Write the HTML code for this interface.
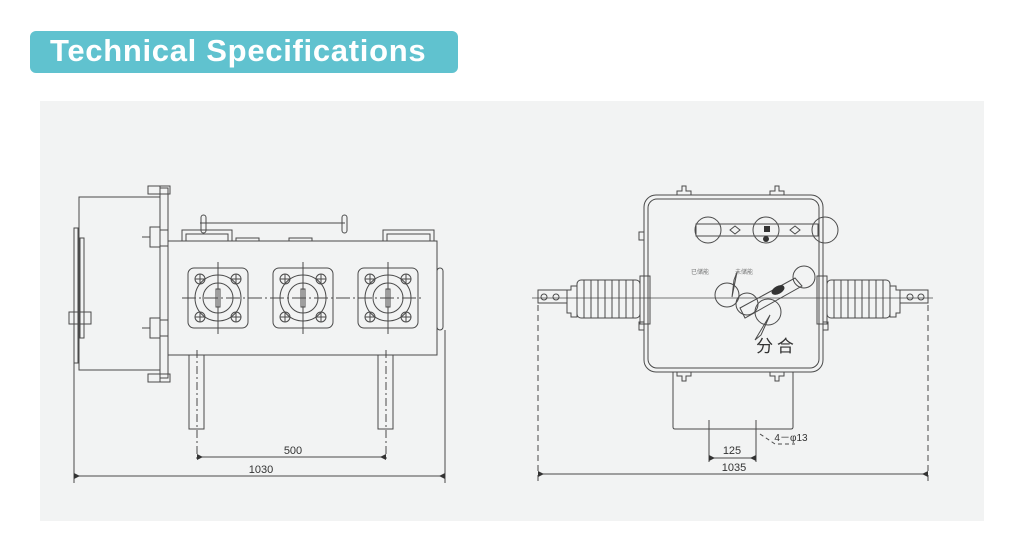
<!DOCTYPE html>
<html><head><meta charset="utf-8"><style>
html,body{margin:0;padding:0;background:#fff;width:1024px;height:552px;overflow:hidden}
.banner{position:absolute;left:30px;top:31px;width:428px;height:42px;background:#60c2cf;border-radius:6px}
.banner span{position:absolute;left:20px;top:2px;font:bold 31px "Liberation Sans",sans-serif;color:#fff;letter-spacing:0.7px}
.panel{position:absolute;left:40px;top:101px;width:944px;height:420px;background:#f2f3f3}
svg{position:absolute;left:0;top:0}
</style></head><body>
<div class="banner"><span>Technical Specifications</span></div>
<div class="panel"></div>
<svg width="1024" height="552" viewBox="0 0 1024 552" font-family="Liberation Sans, sans-serif">
<g fill="none" stroke="#4a4a4a" stroke-width="1">
<!-- LEFT VIEW -->
<rect x="79" y="197" width="81" height="173"/>
<rect x="74" y="228" width="4" height="135"/>
<rect x="80" y="238" width="4" height="100"/>
<rect x="69" y="312" width="22" height="12"/>
<rect x="160" y="188" width="8" height="190"/>
<rect x="148" y="186" width="12" height="8"/><rect x="160" y="186" width="10" height="8"/>
<rect x="148" y="374" width="12" height="8"/><rect x="160" y="374" width="10" height="8"/>
<rect x="150" y="227" width="10" height="20"/><rect x="160" y="230" width="8" height="16"/>
<rect x="150" y="318" width="10" height="20"/><rect x="160" y="320" width="8" height="16"/>
<line x1="142" y1="237" x2="150" y2="237"/><line x1="142" y1="328" x2="150" y2="328"/>
<rect x="168" y="241" width="269" height="114"/>
<rect x="437" y="268" width="6" height="62" rx="3"/>
<path d="M182 241 V230 h50 V241 M186 241 V234 h42 V241"/>
<line x1="200" y1="223" x2="345" y2="223"/>
<rect x="201" y="215" width="5" height="18" rx="2.5"/>
<rect x="342" y="215" width="5" height="18" rx="2.5"/>
<path d="M236 241 v-3 h23 v3 M289 241 v-3 h23 v3"/>
<path d="M383 241 V230 h51 V241 M387 241 V234 h43 V241"/>
<g id="fl">
<rect x="188" y="268" width="60" height="60" rx="6"/>
<circle cx="218" cy="298" r="23"/><circle cx="218" cy="298" r="15"/>
<rect x="216" y="289" width="4" height="18"/>
<circle cx="200" cy="279" r="5"/><circle cx="236" cy="279" r="5"/><circle cx="200" cy="317" r="5"/><circle cx="236" cy="317" r="5"/>
<path d="M195 279h10M200 274v10M231 279h10M236 274v10M195 317h10M200 312v10M231 317h10M236 312v10"/>
<line x1="218" y1="262" x2="218" y2="334"/>
</g>
<use href="#fl" x="85"/><use href="#fl" x="170"/>
<line x1="182" y1="298" x2="424" y2="298" stroke-dasharray="14,3,2,3"/>
<rect x="189" y="355" width="15" height="74"/><rect x="378" y="355" width="15" height="74"/>
<line x1="197" y1="350" x2="197" y2="460" stroke-dasharray="8,3,2,3"/>
<line x1="386" y1="350" x2="386" y2="460" stroke-dasharray="8,3,2,3"/>
<line x1="197" y1="457" x2="386" y2="457"/>
<line x1="74" y1="363" x2="74" y2="483"/><line x1="445" y1="330" x2="445" y2="483"/>
<line x1="74" y1="476" x2="445" y2="476"/>
<!-- RIGHT VIEW -->
<rect x="644" y="195" width="179" height="177" rx="12"/>
<rect x="648" y="199" width="171" height="169" rx="9"/>
<path d="M677 195v-4h5v-5h4v5h5v4 M770 195v-4h5v-5h4v5h5v4 M677 372v4h5v5h4v-5h5v-4 M770 372v4h5v5h4v-5h5v-4"/>
<path d="M644 232h-5v8h5 M644 322h-5v8h5 M823 322h5v8h-5"/>
<path d="M673 372 V427 q0 2 2 2 H791 q2 0 2-2 V372"/>
<rect x="696" y="224" width="122" height="12"/>
<circle cx="708" cy="230" r="13"/><circle cx="825" cy="230" r="13"/>
<circle cx="766" cy="230" r="13"/>
<path d="M730 230l5-4 5 4-5 4z M790 230l5-4 5 4-5 4z"/>
<rect x="640" y="276" width="10" height="48"/><rect x="817" y="276" width="10" height="48"/>
<path d="M567 290 h4 v-4 h6 V317 h-6 v-4 h-4z"/>
<rect x="577" y="280" width="63" height="38" rx="4"/>
<path d="M584 280v38M591 280v38M598 280v38M605 280v38M612 280v38M619 280v38M626 280v38M633 280v38"/>
<rect x="538" y="290" width="29" height="13"/>
<path d="M900 290 h-4 v-4 h-6 V317 h6 v-4 h4z"/>
<rect x="827" y="280" width="63" height="38" rx="4"/>
<path d="M834 280v38M841 280v38M848 280v38M855 280v38M862 280v38M869 280v38M876 280v38M883 280v38"/>
<rect x="900" y="290" width="28" height="13"/>
<circle cx="544" cy="297" r="3"/><circle cx="556" cy="297" r="3"/><circle cx="910" cy="297" r="3"/><circle cx="921" cy="297" r="3"/>
<line x1="532" y1="298" x2="933" y2="298" stroke-width="0.8"/>
<circle cx="727" cy="295" r="12"/><circle cx="747" cy="304" r="11"/><circle cx="768" cy="312" r="13"/>
<path d="M740 308 L795 278 L802 286 L745 318z"/>
<circle cx="804" cy="277" r="11"/>
<path d="M734 280 l3-8 l-5 25z M755 340 l15-25 l-9 20z"/>
<line x1="538" y1="305" x2="538" y2="483" stroke-dasharray="6,4"/>
<line x1="928" y1="305" x2="928" y2="483" stroke-dasharray="6,4"/>
<line x1="709" y1="420" x2="709" y2="462"/><line x1="756" y1="420" x2="756" y2="462"/>
<line x1="709" y1="458" x2="756" y2="458"/>
<line x1="538" y1="474" x2="928" y2="474"/>
<path d="M760 434 l15 10 h20" stroke-dasharray="4,3"/>
</g>
<g fill="#333">
<rect x="764" y="226" width="6" height="6"/><circle cx="766" cy="239" r="3"/>
<ellipse cx="778" cy="290" rx="7" ry="4" transform="rotate(-28 778 290)"/>
<path d="M197 454l6 3-6 3z M386 454l-6 3 6 3z M74 473l6 3-6 3z M445 473l-6 3 6 3z M709 455l6 3-6 3z M756 455l-6 3 6 3z M538 471l6 3-6 3z M928 471l-6 3 6 3z"/>
</g>
<g fill="#333" font-size="11" text-anchor="middle">
<text x="293" y="454">500</text>
<text x="261" y="473">1030</text>
<text x="732" y="454">125</text>
<text x="734" y="471">1035</text>
<text x="791" y="441" font-size="10">4－φ13</text>
<text x="700" y="274" font-size="6" fill="#777" font-family="Noto Sans CJK SC, sans-serif">已储能</text>
<text x="744" y="274" font-size="6" fill="#777" font-family="Noto Sans CJK SC, sans-serif">未储能</text>
<text x="775" y="352" font-size="17" font-family="Noto Sans CJK SC, sans-serif">分 合</text>
</g>
</svg>
</body></html>
